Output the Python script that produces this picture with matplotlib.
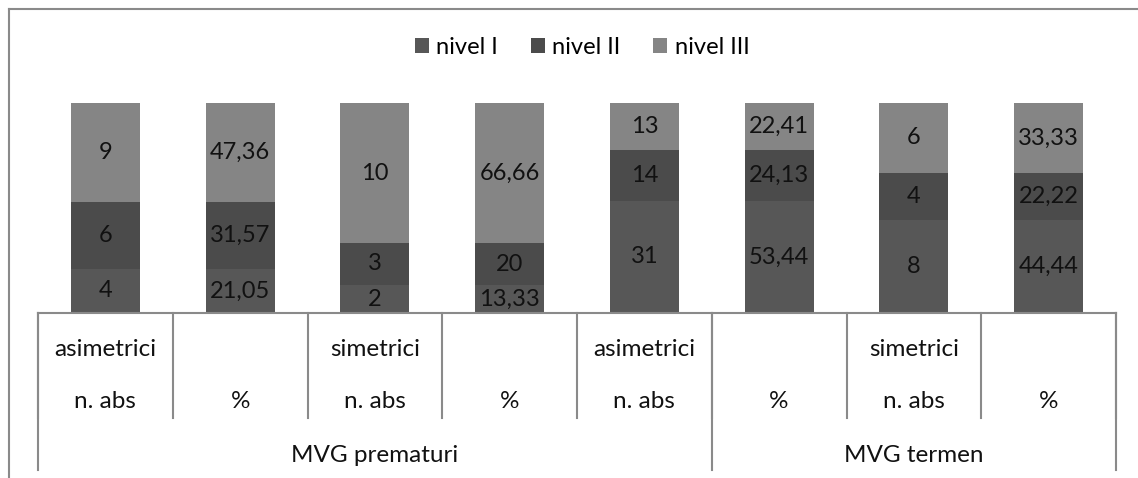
import matplotlib
matplotlib.use("Agg")
import matplotlib.pyplot as plt
from matplotlib.transforms import blended_transform_factory
from matplotlib.lines import Line2D
import numpy as np

plt.rcParams['font.family'] = ['Lato', 'DejaVu Sans']

# Data
series = ["nivel I", "nivel II", "nivel III"]
level1_labels = ["asimetrici", "", "simetrici", "", "asimetrici", "", "simetrici", ""]
level2_labels = ["n. abs", "%", "n. abs", "%", "n. abs", "%", "n. abs", "%"]
groups = ["MVG prematuri", "MVG termen"]
group_sizes = [5, 3]

nivel_I = [4, 21.05, 2, 13.33, 31, 53.44, 8, 44.44]
nivel_II = [6, 31.57, 3, 20, 14, 24.13, 4, 22.22]
nivel_III = [9, 47.36, 10, 66.66, 13, 22.41, 6, 33.33]

colors = ["#575757", "#4b4b4b", "#858585"]

W, H = 1138, 478
fig = plt.figure(figsize=(W / 100, H / 100), dpi=100)

ax_left, ax_right, ax_bottom, ax_top = 38, 1116, 313, 103
ax = fig.add_axes([ax_left / W, 1 - ax_bottom / H,
                   (ax_right - ax_left) / W, (ax_bottom - ax_top) / H])

values = np.array([nivel_I, nivel_II, nivel_III], dtype=float)
totals = values.sum(axis=0)
shares = values / totals * 100

n = len(level2_labels)
x = np.arange(n) + 0.5
bottom = np.zeros(n)


def fmt(v):
    s = f"{v:.2f}".rstrip("0").rstrip(".")
    return s.replace(".", ",")


handles = []
for k, name in enumerate(series):
    bars = ax.bar(x, shares[k], 0.512, bottom=bottom, color=colors[k],
                  linewidth=0, label=name)
    handles.append(bars)
    for xi, b, h, v in zip(x, bottom, shares[k], values[k]):
        ax.text(xi, b + h / 2, fmt(v), ha="center", va="center",
                fontsize=17, color="#111111")
    bottom += shares[k]

ax.set_xlim(0, n)
ax.set_ylim(0, 100)
ax.axis("off")

# Category axis drawn as a table of labels
line_c = "#8a8a8a"
tr = blended_transform_factory(ax.transData, fig.transFigure)


def fy(py):
    return 1 - py / H


ax.add_line(Line2D([0, n], [fy(313), fy(313)], transform=tr, color=line_c,
                   lw=1.5, clip_on=False))
for b in range(n + 1):
    ax.add_line(Line2D([b, b], [fy(313), fy(418)], transform=tr, color=line_c,
                       lw=1.5, clip_on=False))
edges = np.concatenate([[0], np.cumsum(group_sizes)])
for b in edges:
    ax.add_line(Line2D([b, b], [fy(313), fy(470)], transform=tr, color=line_c,
                       lw=1.5, clip_on=False))

for xi, l1, l2 in zip(x, level1_labels, level2_labels):
    ax.text(xi, fy(350), l1, transform=tr, ha="center", va="center",
            fontsize=17.5, color="#111111")
    ax.text(xi, fy(402), l2, transform=tr, ha="center", va="center",
            fontsize=17.5, color="#111111")
for g, a, b in zip(groups, edges[:-1], edges[1:]):
    ax.text((a + b) / 2, fy(455), g, transform=tr, ha="center", va="center",
            fontsize=17.5, color="#111111")

# Chart area border
fig.add_artist(Line2D([9 / W, 9 / W], [0, fy(9)], transform=fig.transFigure,
                      color=line_c, lw=1.5))
fig.add_artist(Line2D([9 / W, 1], [fy(9), fy(9)], transform=fig.transFigure,
                      color=line_c, lw=1.5))

fig.legend(handles=handles, loc="center", ncol=3,
           bbox_to_anchor=(582 / W, fy(47)), frameon=False, fontsize=17,
           handlelength=0.6, handleheight=0.6, handletextpad=0.3,
           columnspacing=1.4)

fig.savefig("out.png", dpi=100)
